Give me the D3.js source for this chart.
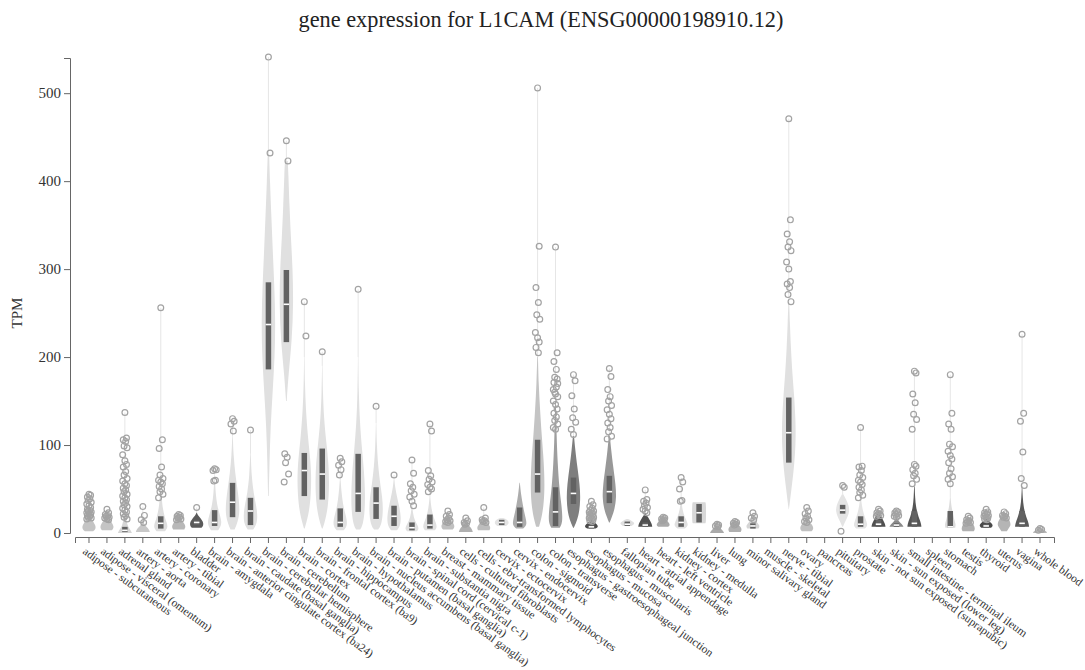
<!DOCTYPE html>
<html><head><meta charset="utf-8">
<script src="https://cdn.jsdelivr.net/npm/d3@7"></script>
<style>
body{margin:0;background:#fff}
text{font-family:"Liberation Serif","Times New Roman",serif}
</style>
</head><body>
<svg id="chart" width="1085" height="670"></svg>
<script>
const chartTitle = "gene expression for L1CAM (ENSG00000198910.12)";
const yLabel = "TPM";
const yTicks = [0,100,200,300,400,500];

const tissues = ["adipose - subcutaneous","adipose - visceral (omentum)","adrenal gland","artery - aorta","artery - coronary","artery - tibial","bladder","brain - amygdala","brain - anterior cingulate cortex (ba24)","brain - caudate (basal ganglia)","brain - cerebellar hemisphere","brain - cerebellum","brain - cortex","brain - frontal cortex (ba9)","brain - hippocampus","brain - hypothalamus","brain - nucleus accumbens (basal ganglia)","brain - putamen (basal ganglia)","brain - spinal cord (cervical c-1)","brain - substantia nigra","breast - mammary tissue","cells - cultured fibroblasts","cells - ebv-transformed lymphocytes","cervix - ectocervix","cervix - endocervix","colon - sigmoid","colon - transverse","esophagus - gastroesophageal junction","esophagus - mucosa","esophagus - muscularis","fallopian tube","heart - atrial appendage","heart - left ventricle","kidney - cortex","kidney - medulla","liver","lung","minor salivary gland","muscle - skeletal","nerve - tibial","ovary","pancreas","pituitary","prostate","skin - not sun exposed (suprapubic)","skin - sun exposed (lower leg)","small intestine - terminal ileum","spleen","stomach","testis","thyroid","uterus","vagina","whole blood"];

const medians = [null,null,3,null,11,null,12,12,35,25,237,260,71,67,12,45,34,19,6,9,null,null,null,12,12,67,24,45,7,47,10,9,null,12,23,null,null,8,null,114,null,null,26,10,10,9,11,null,7,null,8,null,11,null];
const q1s = [null,null,1,null,5,null,9,8,18,9,186,217,42,38,7,24,16,8,3,5,null,null,null,9,7,46,8,33,5,34,8,7,null,7,12,null,null,5,null,80,null,null,22,7,7,7,7,null,6,null,6,null,7,null];
const q3s = [null,null,7,null,19,null,15,26,57,40,285,299,91,96,28,90,52,31,12,21,null,null,null,15,29,106,52,63,9,65,13,12,null,19,33,null,null,11,null,154,null,null,32,19,15,11,25,null,25,null,10,null,25,null];

// density profiles: [TPM, relative density]
const profiles = [
 [[2,0.6],[5,1],[9,0.9],[13,0.6],[18,0.3],[24,0.08]],
 [[3,0.7],[6,1],[10,0.85],[14,0.5],[18,0.2],[22,0.05]],
 [[0,1],[3,0.85],[7,0.45],[14,0.2],[25,0.08],[40,0.03]],
 [[1,1],[4,0.9],[7,0.5],[10,0.2],[14,0.05]],
 [[2,0.6],[6,1],[11,0.9],[18,0.55],[28,0.28],[40,0.13],[60,0.05]],
 [[4,0.8],[7,1],[10,0.85],[14,0.5],[18,0.2],[22,0.05]],
 [[6,0.7],[9,1],[13,0.9],[17,0.55],[20,0.2],[23,0.03]],
 [[3,0.5],[8,0.9],[13,1],[22,0.7],[32,0.35],[45,0.15],[60,0.06],[72,0.02]],
 [[4,0.3],[12,0.7],[22,1],[35,0.95],[50,0.7],[68,0.38],[88,0.14],[110,0.04]],
 [[4,0.4],[10,0.9],[20,1],[30,0.85],[45,0.45],[65,0.15],[90,0.04]],
 [[42,0.05],[80,0.15],[120,0.3],[160,0.6],[200,0.9],[240,1],[280,0.85],[320,0.62],[360,0.42],[400,0.22],[431,0.1]],
 [[150,0.05],[180,0.3],[220,0.8],[260,1],[300,0.9],[335,0.65],[370,0.45],[410,0.28],[423,0.2]],
 [[5,0.05],[12,0.3],[25,0.7],[45,0.95],[65,1],[85,0.85],[110,0.5],[140,0.22],[170,0.08],[200,0.03]],
 [[5,0.05],[12,0.35],[30,0.85],[55,1],[80,0.9],[105,0.55],[130,0.25],[160,0.08],[190,0.03]],
 [[3,0.5],[7,0.9],[12,1],[20,0.8],[30,0.45],[45,0.2],[60,0.06]],
 [[4,0.3],[10,0.7],[25,0.95],[45,1],[70,0.85],[95,0.55],[125,0.25],[160,0.08],[200,0.03]],
 [[4,0.3],[10,0.8],[25,1],[40,0.9],[55,0.6],[75,0.3],[100,0.1],[125,0.03]],
 [[3,0.4],[8,0.9],[18,1],[28,0.8],[40,0.45],[52,0.15],[62,0.04]],
 [[2,0.7],[5,1],[9,0.8],[14,0.4],[22,0.15],[30,0.05]],
 [[3,0.7],[6,1],[11,0.9],[18,0.5],[28,0.2],[40,0.06]],
 [[4,0.7],[7,1],[11,0.8],[15,0.4],[20,0.1]],
 [[1,1],[4,0.9],[7,0.6],[10,0.25],[14,0.05]],
 [[3,0.8],[6,1],[10,0.7],[14,0.3],[18,0.08]],
 [[8,0.6],[10,1],[13,1],[15,0.8],[17,0.2]],
 [[5,0.5],[9,1],[14,0.95],[22,0.7],[32,0.45],[44,0.2],[57,0.03]],
 [[7,0.2],[15,0.5],[30,0.85],[50,1],[70,0.95],[90,0.8],[110,0.6],[140,0.35],[170,0.15],[200,0.05]],
 [[6,0.6],[10,0.9],[18,1],[32,0.85],[50,0.55],[80,0.3],[110,0.15],[150,0.05]],
 [[6,0.05],[12,0.4],[22,0.8],[38,1],[55,0.9],[75,0.55],[95,0.25],[110,0.08]],
 [[5,0.6],[7,1],[10,0.8],[13,0.3],[15,0.05]],
 [[12,0.05],[18,0.35],[27,0.75],[40,1],[55,0.9],[75,0.55],[95,0.25],[110,0.08]],
 [[8,0.6],[10,1],[12,1],[14,0.6],[16,0.1]],
 [[7,1],[10,0.95],[14,0.7],[18,0.4],[21,0.15],[23,0.02]],
 [[7,0.7],[9,1],[12,0.8],[15,0.4],[18,0.1]],
 [[5,0.5],[8,1],[12,0.9],[18,0.5],[26,0.2],[36,0.05]],
 [[11,0.9],[13,1],[33,1],[35,0.9]],
 [[0,1],[2,0.9],[5,0.5],[8,0.15],[10,0.02]],
 [[1,0.8],[4,1],[7,0.8],[10,0.4],[13,0.1]],
 [[5,0.8],[8,1],[11,0.7],[15,0.3],[19,0.05]],
 [],
 [[27,0.02],[35,0.15],[50,0.38],[70,0.68],[90,0.9],[110,1],[130,0.95],[155,0.78],[180,0.52],[210,0.3],[240,0.15],[262,0.06]],
 [[2,0.7],[5,1],[9,0.8],[13,0.4],[18,0.1]],
 [],
 [[7,0.05],[12,0.3],[18,0.7],[25,1],[32,0.85],[38,0.5],[44,0.1]],
 [[5,0.6],[8,1],[12,0.9],[18,0.6],[26,0.3],[36,0.1],[45,0.03]],
 [[7,1],[10,0.95],[14,0.7],[18,0.45],[22,0.25],[25,0.1]],
 [[7,1],[9,0.9],[12,0.5],[15,0.2],[17,0.05]],
 [[7,1],[11,0.95],[16,0.7],[22,0.45],[30,0.22],[40,0.1],[53,0.04]],
 [],
 [[6,0.7],[10,0.8],[15,0.55],[22,0.4],[30,0.15],[40,0.05]],
 [[2,0.8],[5,1],[9,0.8],[13,0.4],[18,0.1]],
 [[6,0.7],[8,1],[11,0.8],[14,0.3],[16,0.05]],
 [[2,0.4],[5,0.6],[9,1],[14,0.8],[19,0.4],[24,0.1]],
 [[7,1],[11,0.95],[16,0.7],[22,0.45],[30,0.22],[40,0.1],[53,0.03]],
 [[0,1],[2,0.9],[4,0.5],[6,0.1]]
];

const outliers = [
 [44,43,41,39,37,35,33,31,29,27,26,25,24,23,22,21,20,19,18,17,16],
 [27,23,21,20,19,18,17,16,15],
 [137,108,106,104,99,97,89,82,78,75,70,66,62,59,56,54,51,49,47,44,42,40,38,36,34,32,30,28,26,24,22,20,18,16],
 [30,20,15,12],
 [256,106,96,75,66,62,60,58,56,53,50,47,44,40],
 [21,20,19,18,17,16,15],
 [29],
 [73,72,71,60,59],
 [130,127,124,116],
 [117],
 [541,432],
 [446,423,90,86,80,67,58],
 [263,224],
 [206],
 [85,81,77,72,66],
 [277],
 [144],
 [66],
 [83,68,56,52,48,44,41,36,31],
 [124,116,71,65,61,58,55,52,50,47],
 [25,21,19,17,15,14,13,12],
 [17,14,12,11,10],
 [29,17,15,14,13,12],
 [],
 [],
 [506,326,279,262,248,243,228,222,217,211,205],
 [325,205,195,186,177,170,163,158,175,171,166,160,155,150,146,141,136,132,128,124,120,118],
 [180,173,156,141,131,126,118,112],
 [36,32,30,28,26,25,24,23,22,21,20,19,18,17,16,15,14,13],
 [187,178,163,155,150,145,140,135,130,125,120,115,110,107],
 [],
 [49,38,36,34,31,29,27,25,23],
 [18,17,16,15,14],
 [63,58,50,37,36],
 [],
 [10,9,8,7],
 [13,12,11,10,9],
 [23,19,17,15],
 [],
 [471,356,340,331,325,321,308,300,286,283,279,271,263],
 [29,25,22,19,17,15,13,12],
 [],
 [54,52,2],
 [120,76,75,71,66,63,60,58,55,52,49,46,43,40],
 [27,25,23,22,21,20,19],
 [25,24,23,22,21,20,19,18],
 [184,182,158,148,135,129,118,78,76,72,68,65,61,56],
 [],
 [180,136,124,118,101,98,93,88,84,80,73,68,64,61,56],
 [19,17,15,14,13,12,11],
 [27,24,23,22,21,20,19,18,17,16,15],
 [24,22,20,19,18,17],
 [226,136,127,92,62,54],
 [5,4,3]
];

const tissueGrays = ["#c4c4c4","#c4c4c4","#d6d6d6","#c8c8c8","#dedede","#b8b8b8","#5a5a5a",
 "#e0e0e0","#e0e0e0","#e0e0e0","#e0e0e0","#e0e0e0","#e0e0e0","#e0e0e0","#e0e0e0","#e0e0e0","#e0e0e0","#e0e0e0","#e0e0e0","#e0e0e0",
 "#c0c0c0","#b0b0b0","#bdbdbd","#e4e4e4","#acacac","#c4c4c4","#9e9e9e","#7e7e7e","#4a4a4a","#989898",
 "#e0e0e0","#505050","#aaaaaa","#e0e0e0","#d8d8d8","#aaaaaa","#b0b0b0","#d5d5d5","#cccccc","#e0e0e0",
 "#c0c0c0","#cccccc","#e4e4e4","#e4e4e4","#505050","#8a8a8a","#555555","#cccccc","#dcdcdc","#b0b0b0",
 "#4a4a4a","#b5b5b5","#5a5a5a","#b8b8b8"];

const svg = d3.select("#chart");
const x = d3.scaleBand().domain(tissues).range([75,1054]).paddingOuter(0.28).paddingInner(0);
const y = d3.scaleLinear().domain([0,540]).range([533,58]);
const halfW = d3.scaleLinear().domain([0,1]).range([0,7]);
const jitter = [0,1.6,-1.6,0.8,-0.8,2.2,-2.2];

svg.append("text").attr("x",541).attr("y",27).attr("text-anchor","middle")
  .attr("font-size",22.3).attr("fill","#222").text(chartTitle);

// y axis
const gy = svg.append("g").attr("transform","translate(70,0)")
  .call(d3.axisLeft(y).tickValues(yTicks).tickSize(6).tickSizeOuter(6).tickPadding(3));
gy.select(".domain").attr("stroke","#666");
gy.selectAll(".tick line").attr("stroke","#666");
gy.selectAll(".tick text").attr("font-size",15).attr("fill","#333")
  .style("font-family",'"Liberation Serif",serif');

svg.append("text").attr("transform","translate(22,313) rotate(-90)")
  .attr("text-anchor","middle").attr("font-size",15).attr("fill","#333").text(yLabel);

// x axis
const gx = svg.append("g").attr("transform","translate(0,537)")
  .call(d3.axisBottom(x).tickSize(6).tickSizeOuter(6));
gx.select(".domain").attr("stroke","#666");
gx.selectAll(".tick line").attr("stroke","#666");
gx.selectAll(".tick text").attr("font-size",11.5).attr("fill","#333")
  .style("font-family",'"Liberation Serif",serif')
  .attr("text-anchor","start").attr("x",0).attr("y",0).attr("dy","0")
  .attr("transform","translate(-7,16) rotate(36)");

const plot = svg.append("g");
const area = d3.area().curve(d3.curveBasis);

tissues.forEach((t,i) => {
  const cx = x(t) + x.bandwidth()/2;
  const g = plot.append("g");
  const prof = profiles[i];
  const outs = outliers[i];
  if (prof.length) {
    const top = prof[prof.length-1][0];
    const maxOut = outs.length ? d3.max(outs) : top;
    if (maxOut > top) {
      g.append("line").attr("x1",cx).attr("x2",cx)
        .attr("y1",y(top)).attr("y2",y(maxOut))
        .attr("stroke","#e6e6e6").attr("stroke-width",1);
    }
    g.append("path")
      .attr("d", area.x0(d=>cx-halfW(d[1])).x1(d=>cx+halfW(d[1])).y(d=>y(d[0]))(prof))
      .attr("fill", tissueGrays[i]);
  }
  if (q1s[i] != null) {
    g.append("rect").attr("x",cx-2.75).attr("width",5.5)
      .attr("y",y(q3s[i])).attr("height",y(q1s[i])-y(q3s[i]))
      .attr("fill","#626262");
    g.append("rect").attr("x",cx-2.75).attr("width",5.5)
      .attr("y",y(medians[i])-0.8).attr("height",1.6).attr("fill","#fff");
  }
  g.selectAll("circle").data(outs).join("circle")
    .attr("cx",(d,k)=>cx + jitter[k % jitter.length])
    .attr("cy",d=>y(d)).attr("r",2.9)
    .attr("fill","none").attr("stroke","#a3a3a3").attr("stroke-width",1.2);
});
</script>
</body></html>
